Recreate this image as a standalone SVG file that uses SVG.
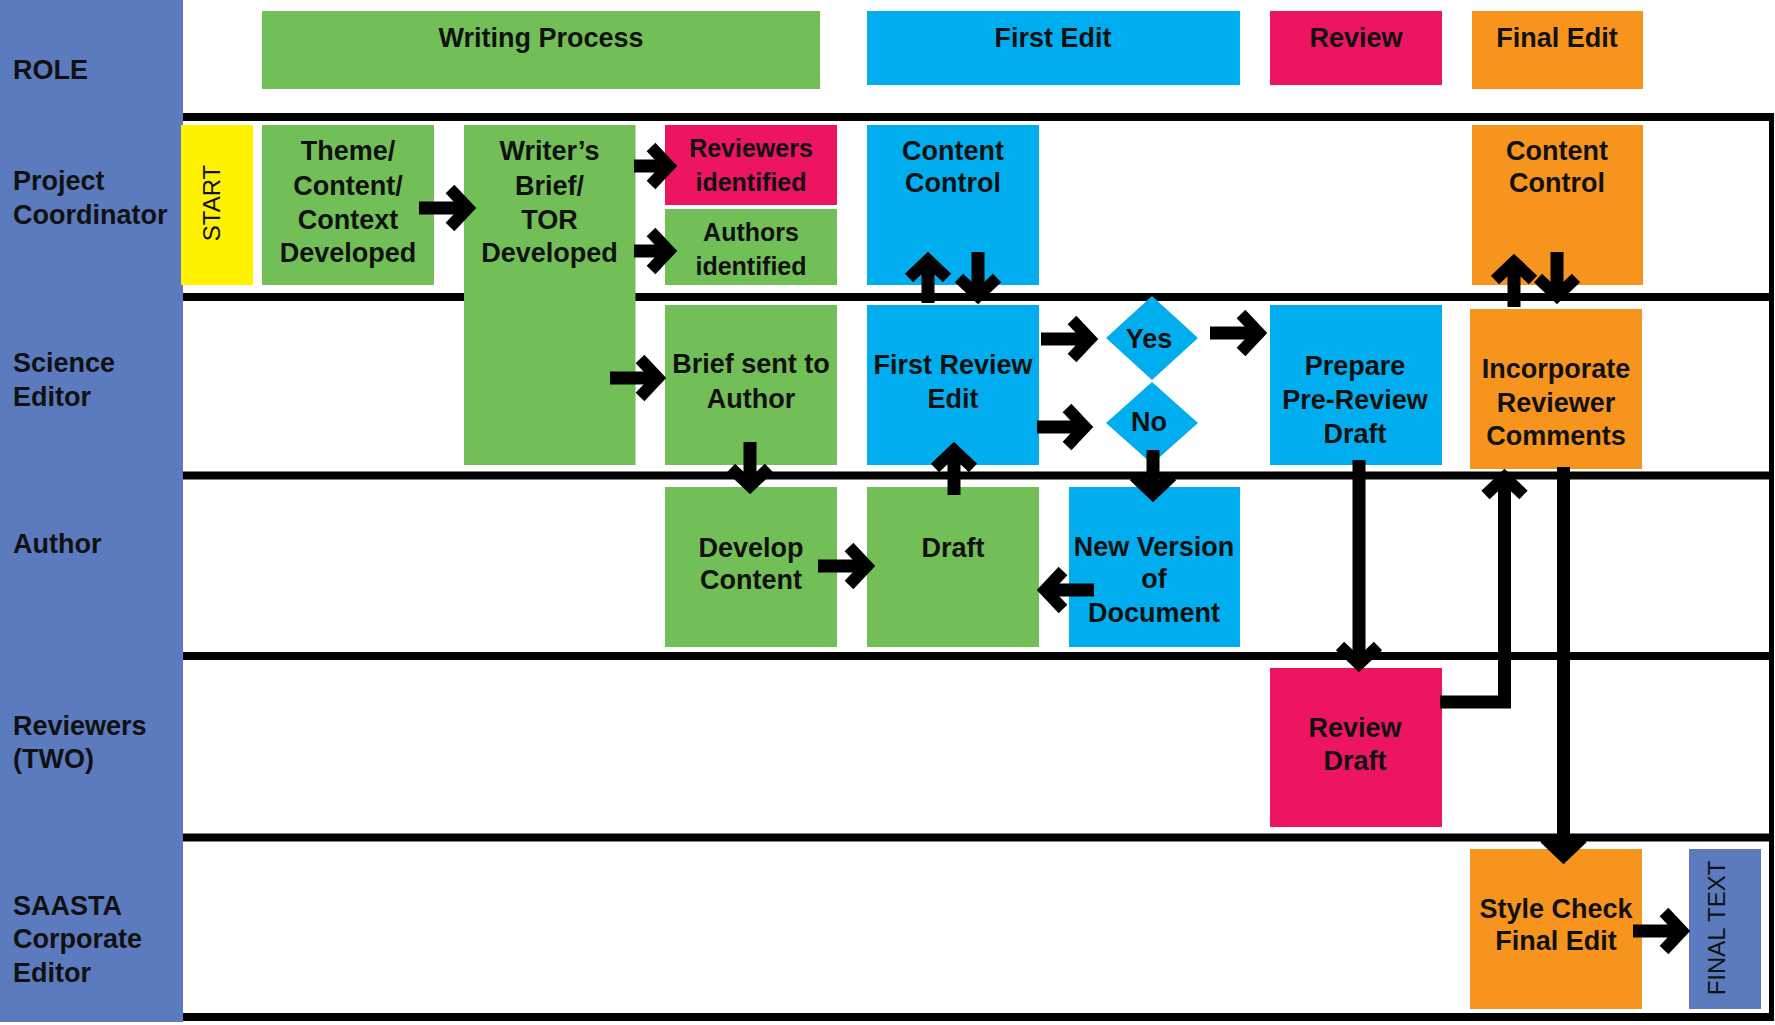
<svg xmlns="http://www.w3.org/2000/svg" width="1775" height="1025" viewBox="0 0 1775 1025">
<defs>
<style>
.lane{fill:#5B7BBE}
.gr{fill:#71BF56}
.bl{fill:#00AEEF}
.pk{fill:#ED1561}
.or{fill:#F7941E}
.ye{fill:#FFF200}
.sep{stroke:#000;stroke-width:8;fill:none}
.t{font-family:"Liberation Sans",Arial,sans-serif;font-weight:700;font-size:27px;fill:#111}
.c{text-anchor:middle}
.s{font-size:25px}
.rot{font-family:"Liberation Sans",Arial,sans-serif;font-size:24px;fill:#111;text-anchor:middle}
.arr{stroke:#000;stroke-width:13;fill:none;stroke-linejoin:miter;marker-end:url(#ah)}
</style>
<marker id="ah" markerUnits="userSpaceOnUse" orient="auto" refX="0" refY="0" markerWidth="60" markerHeight="60" overflow="visible">
<path d="M-18,-19 L0,0 L-18,19" fill="none" stroke="#000" stroke-width="12"/>
</marker>
</defs>
<rect width="1775" height="1025" fill="#fff"/>

<g id="lanes">
<rect class="lane" x="0" y="0" width="183" height="1022"/>
<text class="t" x="13" y="79">ROLE</text>
<text class="t" x="13" y="190">Project</text>
<text class="t" x="13" y="224">Coordinator</text>
<text class="t" x="13" y="372">Science</text>
<text class="t" x="13" y="406">Editor</text>
<text class="t" x="13" y="553">Author</text>
<text class="t" x="13" y="735">Reviewers</text>
<text class="t" x="13" y="768">(TWO)</text>
<text class="t" x="13" y="915">SAASTA</text>
<text class="t" x="13" y="948">Corporate</text>
<text class="t" x="13" y="982">Editor</text>
<path class="sep" d="M183,117 H1774 M183,297 H1774 M183,475.5 H1774 M183,656 H1774 M183,837.5 H1774 M183,1017 H1774"/>
<path d="M1771.5,113 V1021" stroke="#000" stroke-width="5"/>
</g>

<g id="header-writing"><rect class="gr" x="262" y="11" width="558" height="78"/><text class="t c" x="541" y="47">Writing Process</text></g>
<g id="header-first-edit"><rect class="bl" x="867" y="11" width="373" height="74"/><text class="t c" x="1053" y="47">First Edit</text></g>
<g id="header-review"><rect class="pk" x="1270" y="11" width="172" height="74"/><text class="t c" x="1356" y="47">Review</text></g>
<g id="header-final-edit"><rect class="or" x="1472" y="11" width="171" height="78"/><text class="t c" x="1557" y="47">Final Edit</text></g>

<g id="start"><rect class="ye" x="181" y="125" width="72" height="160"/><text class="rot" transform="translate(220,203) rotate(-90)">START</text></g>
<g id="theme"><rect class="gr" x="262" y="125" width="172" height="160"/><text class="t c"><tspan x="348" y="160">Theme/</tspan><tspan x="348" y="195">Content/</tspan><tspan x="348" y="229">Context</tspan><tspan x="348" y="262">Developed</tspan></text></g>
<g id="writers-brief"><rect class="gr" x="464" y="125" width="171.5" height="340"/><text class="t c"><tspan x="549.5" y="160">Writer’s</tspan><tspan x="549.5" y="195">Brief/</tspan><tspan x="549.5" y="229">TOR</tspan><tspan x="549.5" y="262">Developed</tspan></text></g>
<g id="reviewers-identified"><rect class="pk" x="665" y="125" width="172" height="80"/><text class="t c s"><tspan x="751" y="157">Reviewers</tspan><tspan x="751" y="191">identified</tspan></text></g>
<g id="authors-identified"><rect class="gr" x="665" y="209" width="172" height="76"/><text class="t c s"><tspan x="751" y="241">Authors</tspan><tspan x="751" y="275">identified</tspan></text></g>
<g id="content-control-1"><rect class="bl" x="867" y="125" width="172" height="160"/><text class="t c"><tspan x="953" y="160">Content</tspan><tspan x="953" y="192">Control</tspan></text></g>
<g id="content-control-2"><rect class="or" x="1472" y="125" width="171" height="160"/><text class="t c"><tspan x="1557" y="160">Content</tspan><tspan x="1557" y="192">Control</tspan></text></g>

<g id="brief-sent"><rect class="gr" x="665" y="305" width="172" height="160"/><text class="t c"><tspan x="751" y="373">Brief sent to</tspan><tspan x="751" y="408">Author</tspan></text></g>
<g id="first-review-edit"><rect class="bl" x="867" y="305" width="172" height="160"/><text class="t c"><tspan x="953" y="374">First Review</tspan><tspan x="953" y="408">Edit</tspan></text></g>
<g id="yes"><path class="bl" d="M1152,296 L1198,338 L1152,380 L1106,338 Z"/><text class="t c" x="1149" y="348">Yes</text></g>
<g id="no"><path class="bl" d="M1152,382 L1198,423 L1152,464 L1106,423 Z"/><text class="t c" x="1149" y="431">No</text></g>
<g id="prepare"><rect class="bl" x="1270" y="305" width="172" height="160"/><text class="t c"><tspan x="1355" y="375">Prepare</tspan><tspan x="1355" y="409">Pre-Review</tspan><tspan x="1355" y="443">Draft</tspan></text></g>
<g id="incorporate"><rect class="or" x="1470" y="309" width="172" height="160"/><text class="t c"><tspan x="1556" y="378">Incorporate</tspan><tspan x="1556" y="412">Reviewer</tspan><tspan x="1556" y="445">Comments</tspan></text></g>

<g id="develop-content"><rect class="gr" x="665" y="487" width="172" height="160"/><text class="t c"><tspan x="751" y="557">Develop</tspan><tspan x="751" y="589">Content</tspan></text></g>
<g id="draft"><rect class="gr" x="867" y="487" width="172" height="160"/><text class="t c" x="953" y="557">Draft</text></g>
<g id="new-version"><rect class="bl" x="1069" y="487" width="171" height="160"/><text class="t c"><tspan x="1154" y="556">New Version</tspan><tspan x="1154" y="588">of</tspan><tspan x="1154" y="622">Document</tspan></text></g>

<g id="review-draft"><rect class="pk" x="1270" y="668" width="172" height="159"/><text class="t c"><tspan x="1355" y="737">Review</tspan><tspan x="1355" y="770">Draft</tspan></text></g>
<g id="style-check"><rect class="or" x="1470" y="849" width="172" height="160"/><text class="t c"><tspan x="1556" y="918">Style Check</tspan><tspan x="1556" y="950">Final Edit</tspan></text></g>
<g id="final-text"><rect class="lane" x="1689" y="849" width="72" height="160"/><text class="rot" transform="translate(1725,928) rotate(-90)">FINAL TEXT</text></g>

<g id="connectors">
<path class="arr" d="M419,208 H468"/>
<path class="arr" d="M634,166 H669"/>
<path class="arr" d="M634,251 H669"/>
<path class="arr" d="M610,378 H658"/>
<path class="arr" d="M928,303 V260"/>
<path class="arr" d="M978,252 V296"/>
<path class="arr" d="M1041,339 H1090"/>
<path class="arr" d="M1037,427 H1085"/>
<path class="arr" d="M1210,333 H1259"/>
<path class="arr" d="M750,442 V486"/>
<path class="arr" d="M818,566 H867"/>
<path class="arr" d="M954,495 V450"/>
<path class="arr" d="M1094,590 H1045"/>
<path class="arr" d="M1153,450 V494"/>
<path class="arr" d="M1514,307 V262"/>
<path class="arr" d="M1557,252 V296"/>
<path class="arr" d="M1359,460 V664"/>
<path class="arr" d="M1440,702 H1504.5 V477"/>
<path class="arr" d="M1563.5,467 V856"/>
<path class="arr" d="M1633,931 H1682"/>
</g>
</svg>
